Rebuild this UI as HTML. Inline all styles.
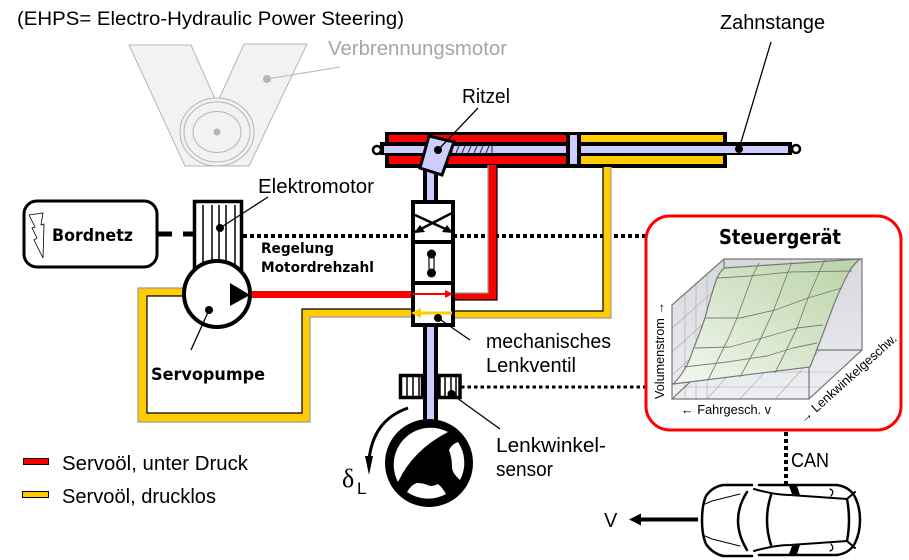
<!DOCTYPE html>
<html lang="de">
<head>
<meta charset="utf-8">
<title>EHPS Electro-Hydraulic Power Steering</title>
<style>
html,body{margin:0;padding:0;background:#fff}
svg{display:block}
text{font-family:"Liberation Sans",sans-serif;fill:#000}
.b{font-family:"DejaVu Sans",sans-serif;font-weight:bold}
</style>
</head>
<body>
<svg xmlns="http://www.w3.org/2000/svg" width="909" height="560" viewBox="0 0 909 560">
<defs>
<linearGradient id="surf" x1="0" y1="1" x2="1" y2="0"><stop offset="0" stop-color="#f4f8f1"/><stop offset="1" stop-color="#b9d2a5"/></linearGradient>
<linearGradient id="wall" x1="0" y1="0" x2="0" y2="1"><stop offset="0" stop-color="#d6d8dc"/><stop offset="1" stop-color="#eceef1"/></linearGradient>
</defs>

<text x="17" y="25" font-size="19" textLength="387" lengthAdjust="spacingAndGlyphs">(EHPS= Electro-Hydraulic Power Steering)</text>

<g stroke="#b5b5b5" stroke-width="1">
<polygon points="129,45 191,45 215,99 219,99 244,44 307,44 249,166 185,166" fill="#f2f2f2"/>
<ellipse cx="217" cy="132" rx="37" ry="34" fill="#f2f2f2"/>
<ellipse cx="217" cy="132" rx="33" ry="30" fill="#f2f2f2"/>
<ellipse cx="217" cy="132" rx="24" ry="20.5" fill="#f2f2f2"/>
<circle cx="217" cy="132" r="3" fill="#b5b5b5"/>
<circle cx="267" cy="79" r="3.5" fill="#b5b5b5"/>
<line x1="267" y1="79" x2="340" y2="67"/>
</g>
<text x="328" y="55" font-size="20" style="fill:#a6a6a6" textLength="179" lengthAdjust="spacingAndGlyphs">Verbrennungsmotor</text>

<g fill="none" stroke="#000">
<line x1="243" y1="236" x2="648" y2="236" stroke-width="4" stroke-dasharray="4 3"/>
<line x1="461" y1="387" x2="647" y2="387" stroke-width="3" stroke-dasharray="3.5 3"/>
<line x1="786" y1="432" x2="786" y2="484" stroke-width="4" stroke-dasharray="4 3"/>
<path d="M157 234H172M183 234H193" stroke-width="5"/>
</g>

<g>
<rect x="423" y="165" width="15" height="36" fill="#000"/><rect x="427" y="165" width="7" height="36" fill="#ccf"/>
<rect x="423" y="326" width="15" height="96" fill="#000"/><rect x="427" y="326" width="7" height="95" fill="#ccf"/>
</g>

<g>
<rect x="385" y="132" width="342" height="36" fill="#000"/>
<rect x="389" y="135" width="177" height="7" fill="#f00"/>
<rect x="389" y="156" width="177" height="8" fill="#f00"/>
<rect x="581" y="135" width="142" height="7" fill="#fc0"/>
<rect x="581" y="156" width="142" height="8" fill="#fc0"/>
<rect x="380" y="142" width="412" height="13" fill="#000"/>
<rect x="384" y="146" width="404" height="7" fill="#ccf"/>
<rect x="566" y="132" width="15" height="36" fill="#000"/>
<rect x="570" y="135" width="7" height="29" fill="#ccf"/>
<path d="M452 146V153M456 153L459 146M462 153L465 146M468 153L471 146M474 153L477 146M480 153L483 146M486 153L489 146M492 146V153" stroke="#223" stroke-width="1" fill="none"/>
<circle cx="377" cy="150" r="4" fill="#fff" stroke="#000" stroke-width="2.5"/>
<circle cx="796" cy="149" r="4" fill="#fff" stroke="#000" stroke-width="2.5"/>
<circle cx="739" cy="149" r="4" fill="#000"/>
</g>

<g>
<rect x="250" y="291" width="162" height="7" fill="#f00"/>
<path d="M455 293H488V165H497V300H455Z" fill="#f00"/>
<path d="M497 165V300H455" fill="none" stroke="#000" stroke-width="1.2"/>
<path d="M488 165V293H455" fill="none" stroke="#999" stroke-width="1.2"/>
</g>
<g>
<path d="M183 296H147V413H302V309H411V317H310V422H138V288H183Z" fill="#fc0"/>
<path d="M183 296H147V413H302V309H411" fill="none" stroke="#000" stroke-width="1.2"/>
<path d="M183 288H138V422H310V317H411" fill="none" stroke="#999" stroke-width="1.2"/>
<path d="M455 311H603V167H611V318H455Z" fill="#fc0"/>
<path d="M603 167V311H455" fill="none" stroke="#000" stroke-width="1.2"/>
<path d="M611 167V318H455" fill="none" stroke="#a99" stroke-width="1.2"/>
</g>

<g>
<polygon points="429,136 454,142 442,175 420,168" fill="#ccf" stroke="#000" stroke-width="3"/>
<circle cx="438" cy="150" r="4" fill="#000"/>
<line x1="438" y1="150" x2="478" y2="108" stroke="#000" stroke-width="1.3"/>
</g>
<text x="462" y="103" font-size="20" textLength="48" lengthAdjust="spacingAndGlyphs">Ritzel</text>

<line x1="739" y1="149" x2="771" y2="42" stroke="#000" stroke-width="1.3"/>
<text x="720" y="29" font-size="20" textLength="105" lengthAdjust="spacingAndGlyphs">Zahnstange</text>

<g>
<rect x="413" y="202" width="40" height="123" fill="#fff" stroke="#000" stroke-width="4"/>
<line x1="411" y1="242" x2="455" y2="242" stroke="#000" stroke-width="4"/>
<line x1="411" y1="283" x2="455" y2="283" stroke="#000" stroke-width="4"/>
<path d="M415 215L452 232M452 213L415 232" stroke="#000" stroke-width="2.5" fill="none"/>
<polygon points="414,233 420,225 425,232" fill="#000"/>
<polygon points="453,233 447,225 442,232" fill="#000"/>
<rect x="429" y="254" width="5" height="19" fill="#fff" stroke="#000" stroke-width="1.2"/>
<circle cx="431.5" cy="254" r="4.5" fill="#000"/>
<circle cx="431.5" cy="273" r="4.5" fill="#000"/>
<line x1="413" y1="294" x2="446" y2="294" stroke="#f00" stroke-width="2"/>
<polygon points="453,294 445,290 445,298" fill="#f00"/>
<line x1="452" y1="313" x2="420" y2="313" stroke="#fc0" stroke-width="3"/>
<polygon points="411,313 421,308 421,318" fill="#fc0"/>
<circle cx="438" cy="318" r="4" fill="#000"/>
<line x1="438" y1="318" x2="470" y2="340" stroke="#000" stroke-width="1.3"/>
</g>
<text x="486" y="348" font-size="20" textLength="125" lengthAdjust="spacingAndGlyphs">mechanisches</text>
<text x="486" y="372" font-size="20" textLength="90" lengthAdjust="spacingAndGlyphs">Lenkventil</text>

<g>
<rect x="194.5" y="201.500" width="47" height="70" fill="#fff" stroke="#000" stroke-width="3.5"/>
<path d="M203 205V265M212 205V265M219 205V265M226 205V265M235 205V265" stroke="#000" stroke-width="1.5"/>
<circle cx="220" cy="228" r="4" fill="#000"/>
<line x1="220" y1="228" x2="268" y2="197" stroke="#000" stroke-width="1.3"/>
</g>
<text x="258" y="193" font-size="20" textLength="116" lengthAdjust="spacingAndGlyphs">Elektromotor</text>
<text class="b" x="261" y="253" font-size="14" textLength="73" lengthAdjust="spacingAndGlyphs">Regelung</text>
<text class="b" x="261" y="272" font-size="14" textLength="113" lengthAdjust="spacingAndGlyphs">Motordrehzahl</text>

<g>
<circle cx="217" cy="294" r="33" fill="#fff" stroke="#000" stroke-width="4"/>
<polygon points="230,283 250,295 230,306" fill="#000"/>
<circle cx="209" cy="310" r="4" fill="#000"/>
<line x1="209" y1="310" x2="191" y2="350" stroke="#000" stroke-width="1.3"/>
</g>
<text class="b" x="151" y="380" font-size="17" textLength="114" lengthAdjust="spacingAndGlyphs">Servopumpe</text>

<g>
<rect x="24" y="201" width="133" height="66" rx="13" fill="#fff" stroke="#000" stroke-width="3"/>
<polygon points="29,215 43,213 41,225 44,224 43,258 34,240 37,238 32,228 35,227" fill="#fff" stroke="#000" stroke-width="0.8"/>
</g>
<text class="b" x="52" y="241" font-size="17" textLength="81" lengthAdjust="spacingAndGlyphs">Bordnetz</text>

<g>
<rect x="400.500" y="375.500" width="22" height="22" fill="#fff" stroke="#000" stroke-width="3.5"/>
<rect x="439" y="375.500" width="21" height="22" fill="#fff" stroke="#000" stroke-width="3.5"/>
<path d="M407 376V397M413 376V397M419 376V397M445 376V397M451 376V397M456 376V397" stroke="#000" stroke-width="1.5"/>
<circle cx="451.500" cy="394" r="4" fill="#000"/>
<line x1="451.500" y1="394" x2="500" y2="429" stroke="#000" stroke-width="1.3"/>
</g>
<text x="496" y="452" font-size="20" textLength="110" lengthAdjust="spacingAndGlyphs">Lenkwinkel-</text>
<text x="496" y="476" font-size="20" textLength="57" lengthAdjust="spacingAndGlyphs">sensor</text>

<g>
<circle cx="429" cy="463" r="44" fill="#000"/>
<path d="M398 482Q413 450 448 432A37 37 0 0 0 398 482Z" fill="#fff"/>
<path d="M458 442A37 37 0 0 1 460 480Q452 473 452 467Q452 458 449 450Q452 444 458 442Z" fill="#fff"/>
<path d="M407 492Q412 484 417 483Q424 483 430 486Q434 486 438 484Q442 487 446 494A37 37 0 0 1 407 492Z" fill="#fff"/>
</g>
<g>
<path d="M408 408Q373 420 369 460" fill="none" stroke="#000" stroke-width="3"/>
<polygon points="365,456 373,456 369,475" fill="#000"/>
</g>
<text font-size="26" x="342" y="487" style="font-family:'Liberation Serif',serif">δ</text>
<text font-size="17" x="357" y="494">L</text>

<g>
<rect x="23.500" y="458.500" width="25" height="6" fill="#f00" stroke="#000"/>
<text x="62" y="470" font-size="20" textLength="186" lengthAdjust="spacingAndGlyphs">Servoöl, unter Druck</text>
<rect x="22.500" y="491.500" width="26" height="6" fill="#fc0" stroke="#000"/>
<text x="62" y="503" font-size="20" textLength="154" lengthAdjust="spacingAndGlyphs">Servoöl, drucklos</text>
</g>

<rect x="646" y="216" width="255" height="214" rx="24" fill="#fff" stroke="#f00" stroke-width="3"/>
<text class="b" x="719" y="244" font-size="20" textLength="122" lengthAdjust="spacingAndGlyphs">Steuergerät</text>

<g>
<polygon points="672,305 724,259 862,259 862,350 809,399 672,399" fill="url(#wall)"/>
<g stroke="#aaa" stroke-width="0.6" fill="none">
<path d="M685 293V399M696 283V399M707 273V399"/>
<path d="M672 328L724 282M672 352L724 305M672 375L724 328"/>
<path d="M672 399L724 350H862M707 399L751 350M740 399L785 350M775 399L820 350M684 387L821 387M697 372L836 372"/>
</g>
<path d="M672 305L724 259H862V350L809 399H672Z M724 259V350M862 350H724L672 399M809 399V367" fill="none" stroke="#777" stroke-width="1.2"/>
<path d="M673 384Q686 372 693 350Q699 335 705 318Q711 295 717 278Q720 272 724 268L860 259Q855 263 850 270Q838 292 830 315Q820 342 810 367Z" fill="url(#surf)" stroke="#777" stroke-width="1.2"/>
<g fill="none" stroke="#7a7f78" stroke-width="0.9" stroke-linejoin="round">
<polyline points="684,367 727,362 767,356 793,348 817,343"/>
<polyline points="695,348 730,347 773,335 797,328 823,325"/>
<polyline points="705,318 740,318 775,310 808,298 842,288"/>
<polyline points="717,278 750,276 790,272 852,271"/>
<polyline points="708,380 729,337 737,318 752,277 759,263"/>
<polyline points="740,377 760,340 773,312 788,272 792,262"/>
<polyline points="775,373 797,328 808,298 820,270 825,260"/>
</g>
<text transform="translate(664,399) rotate(-90)" font-size="13" textLength="97" lengthAdjust="spacingAndGlyphs">Volumenstrom →</text>
<text x="681" y="414" font-size="13" textLength="90" lengthAdjust="spacingAndGlyphs">← Fahrgesch. v</text>
<text transform="translate(804,424) rotate(-42)" font-size="13" textLength="126" lengthAdjust="spacingAndGlyphs">→ Lenkwinkelgeschw.</text>
</g>

<text x="791" y="467" font-size="20" textLength="38" lengthAdjust="spacingAndGlyphs">CAN</text>

<g fill="none" stroke="#000" stroke-linecap="round">
<path d="M752 485H723Q712 487 706 496Q702 505 702 520Q702 535 706 544Q712 553 723 556H752" stroke-width="2.5"/>
<path d="M759 485H837Q850 487 855 497Q860 507 860 520Q860 533 855 543Q850 553 837 555H759" stroke-width="2.5"/>
<path d="M747 492Q729 520 747 550M771 495Q763 520 771 545M847 499Q851 520 847 541" stroke-width="2.5"/>
<path d="M740 494L712 501L705 504M740 546L712 539L705 536" stroke-width="1"/>
<path d="M754 489Q775 495 790 495L847 499L855 492M754 551Q775 545 790 545L847 541L855 548" stroke-width="2"/>
<path d="M830 489Q835 491 831 496M830 551Q835 549 831 544" stroke-width="1.300"/>
<polygon points="789,486 797,486 800,495 792,494" fill="#000" stroke="none"/>
<polygon points="789,554 797,554 800,545 792,546" fill="#000" stroke="none"/>
</g>
<text x="604" y="527" font-size="20">V</text>
<g>
<line x1="698" y1="519.500" x2="638" y2="519.500" stroke="#000" stroke-width="4"/>
<polygon points="629,519.500 641,513.500 641,525.500" fill="#000"/>
</g>
</svg>
</body>
</html>
